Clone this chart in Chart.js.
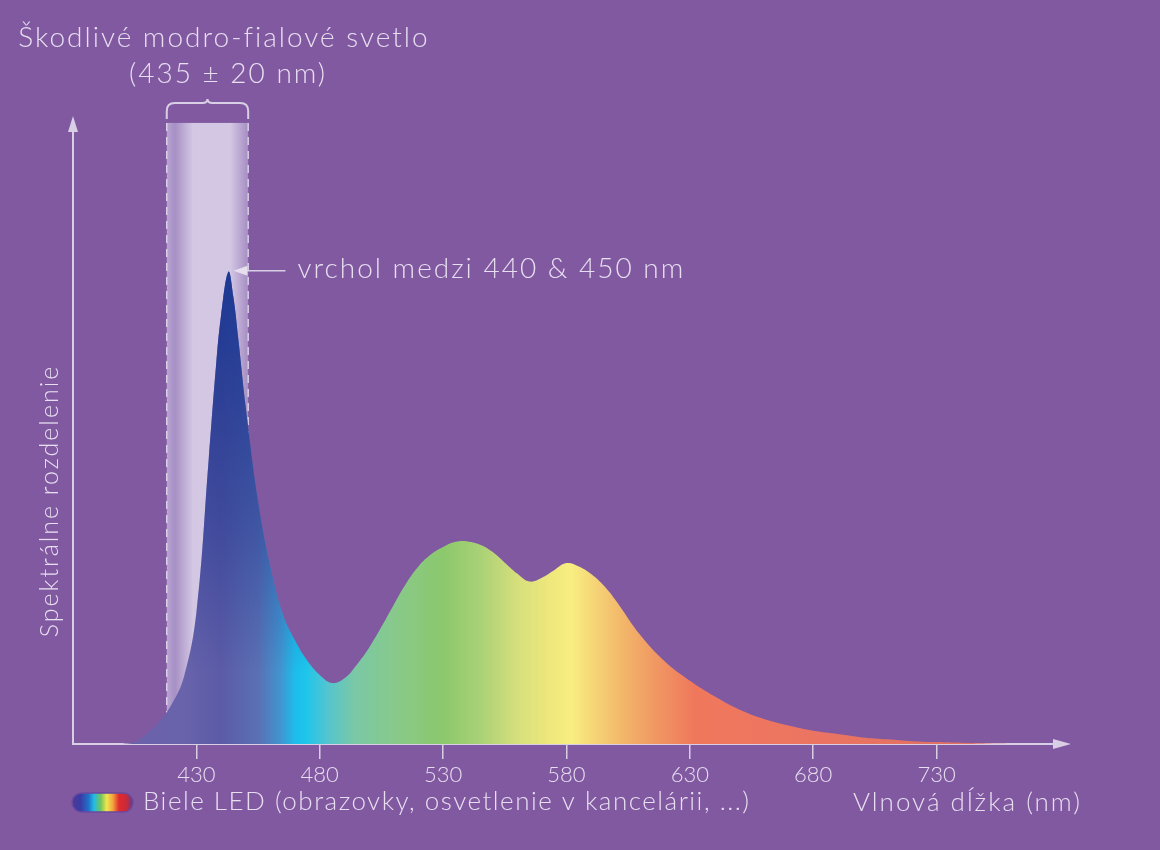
<!DOCTYPE html>
<html lang="sk">
<head>
<meta charset="utf-8">
<title>Spektrálne rozdelenie bielej LED</title>
<script src="https://cdn.jsdelivr.net/npm/chart.js@4.4.1/dist/chart.umd.min.js"></script>
<style>
  html, body { margin: 0; padding: 0; background: #8159a1; }
  #wrap { width: 1160px; height: 850px; position: relative; }
</style>
</head>
<body>
<div id="wrap"><canvas id="spectrum" width="1160" height="850"></canvas></div>
<script>
// wavelength (nm) and relative spectral power
const wavelengths = [400, 405, 410, 415, 420, 425, 430, 435, 438, 440, 443, 445, 447, 450,
    455, 460, 465, 470, 475, 480, 485, 490, 495, 500,
    505, 510, 515, 520, 525, 530, 535, 540, 545, 550, 555, 560, 565, 570, 575, 580, 585, 590, 595, 600,
    610, 620, 630, 640, 650, 660, 670, 680, 690, 700, 710, 720, 730, 740, 750, 760];
const intensity = [0, 0.4, 2.3, 4.8, 8.4, 14.3, 27.8, 60.3, 80.3, 90.7, 100, 94.7, 85.8, 71.4,
    51.4, 37.5, 27.6, 21.9, 17.6, 14.6, 12.9, 13.9, 16.8, 20.4,
    24.8, 29.5, 34.0, 37.6, 40.1, 41.7, 42.8, 42.9, 42.2, 40.7, 38.4, 36.1, 34.4, 35.2, 36.8, 38.3, 37.6, 36.0, 33.6, 30.4,
    23.0, 17.4, 13.4, 10.1, 7.3, 5.3, 3.9, 2.8, 2.1, 1.4, 1.0, 0.6, 0.4, 0.25, 0.1, 0];

const tickValues = [430, 480, 530, 580, 630, 680, 730];
const blueBand = [418, 451];          // dashed band as drawn
const xRange = [380, 778];
const yRange = [0, 130];

const titleLines = ['Škodlivé modro-fialové svetlo', '(435 ± 20 nm)'];
const peakNote = 'vrchol medzi 440 & 450 nm';
const yTitle = 'Spektrálne rozdelenie';
const xTitle = 'Vlnová dĺžka (nm)';
const seriesName = 'Biele LED (obrazovky, osvetlenie v kancelárii, ...)';

// colours
const TEXT = '#e7def0';
const LINE = '#d8cfe6';
const FONT = 'Lato, "Open Sans", sans-serif';
const BAND_TOP = 131.5;

const spectrumStops = [400, 425, 440, 455, 464, 470, 474, 483, 494, 510, 530, 545, 560, 574, 582, 590, 603, 618, 632, 660, 740];
const spectrumColors = ['#6c62aa', '#6863ab', '#5c5ba7', '#5a70b4', '#4294d0', '#1ebcea', '#1cc5ec', '#52c5d0',
    '#7ac8a6', '#88c98c', '#8cc86c', '#a9d176', '#d6df7c', '#f0e87c', '#f8ee82', '#f6d878', '#f2b66a',
    '#f09462', '#ef785c', '#ee7660', '#e07064'];

const points = wavelengths.map((w, i) => ({ x: w, y: intensity[i] }));
const peakIndex = intensity.indexOf(Math.max(...intensity));
const bluePart = points.filter(p => p.x <= 485);

function spectrumFill(context) {
    const { chart } = context;
    const { ctx, chartArea, scales } = chart;
    if (!chartArea) {
        return null;
    }
    const first = spectrumStops[0];
    const last = spectrumStops[spectrumStops.length - 1];
    const g = ctx.createLinearGradient(scales.x.getPixelForValue(first), 0, scales.x.getPixelForValue(last), 0);
    spectrumStops.forEach((nm, i) => {
        g.addColorStop((nm - first) / (last - first), spectrumColors[i]);
    });
    return g;
}

function peakShade(context) {
    const { chart } = context;
    const { ctx, chartArea, scales } = chart;
    if (!chartArea) {
        return null;
    }
    const g = ctx.createLinearGradient(0, scales.y.getPixelForValue(15), 0, scales.y.getPixelForValue(100));
    g.addColorStop(0, 'rgba(25, 50, 140, 0)');
    g.addColorStop(0.35, 'rgba(25, 50, 140, 0.4)');
    g.addColorStop(0.7, 'rgba(25, 52, 142, 0.7)');
    g.addColorStop(1, 'rgba(22, 52, 145, 0.9)');
    return g;
}

function text(ctx, str, x, y, size, align, spacing) {
    ctx.font = `300 ${size}px ${FONT}`;
    ctx.fillStyle = TEXT;
    ctx.textAlign = align || 'left';
    ctx.textBaseline = 'alphabetic';
    ctx.letterSpacing = (spacing || 0) + 'px';
    ctx.fillText(str, x, y);
    ctx.letterSpacing = '0px';
}

const decorPlugin = {
    id: 'decor',
    beforeDatasetsDraw(chart) {
        const { ctx, scales: { x, y } } = chart;
        const left = x.getPixelForValue(blueBand[0]);
        const right = x.getPixelForValue(blueBand[1]);
        const top = y.getPixelForValue(BAND_TOP);
        const bottom = y.getPixelForValue(0);

        ctx.save();
        const g = ctx.createLinearGradient(left, 0, right, 0);
        g.addColorStop(0, '#b8a4d2');
        g.addColorStop(0.1, '#a790c5');
        g.addColorStop(0.32, '#d3c7e3');
        g.addColorStop(0.78, '#d3c7e3');
        g.addColorStop(1, '#a58dc3');
        ctx.fillStyle = g;
        ctx.fillRect(left, top, right - left, bottom - top);

        ctx.setLineDash([8, 6]);
        ctx.strokeStyle = LINE;
        ctx.lineWidth = 1.5;
        [left, right].forEach((px) => {
            ctx.beginPath();
            ctx.moveTo(px, top);
            ctx.lineTo(px, bottom);
            ctx.stroke();
        });
        ctx.restore();
    },
    afterDraw(chart) {
        const { ctx, chartArea, scales: { x, y } } = chart;
        ctx.save();

        // axis arrow heads
        ctx.fillStyle = LINE;
        ctx.beginPath();
        ctx.moveTo(chartArea.left, chartArea.top - 14);
        ctx.lineTo(chartArea.left - 5, chartArea.top + 2);
        ctx.lineTo(chartArea.left + 5, chartArea.top + 2);
        ctx.closePath();
        ctx.fill();
        ctx.beginPath();
        ctx.moveTo(chartArea.right + 16, chartArea.bottom);
        ctx.lineTo(chartArea.right - 2, chartArea.bottom - 5);
        ctx.lineTo(chartArea.right - 2, chartArea.bottom + 5);
        ctx.closePath();
        ctx.fill();

        // brace over the band
        const left = x.getPixelForValue(blueBand[0]);
        const right = x.getPixelForValue(blueBand[1]);
        const mid = (left + right) / 2;
        const top = y.getPixelForValue(BAND_TOP);
        ctx.strokeStyle = LINE;
        ctx.lineWidth = 2;
        ctx.beginPath();
        ctx.moveTo(left, top - 4);
        ctx.lineTo(left, top - 12);
        ctx.quadraticCurveTo(left, top - 20, left + 8, top - 20);
        ctx.lineTo(mid - 5, top - 20);
        ctx.quadraticCurveTo(mid, top - 20, mid, top - 24);
        ctx.quadraticCurveTo(mid, top - 20, mid + 5, top - 20);
        ctx.lineTo(right - 8, top - 20);
        ctx.quadraticCurveTo(right, top - 20, right, top - 12);
        ctx.lineTo(right, top - 4);
        ctx.stroke();

        // titles
        text(ctx, titleLines[0], 224, 47, 28, 'center', 2);
        text(ctx, titleLines[1], 228, 83, 28, 'center', 2);

        // peak annotation
        const tipX = x.getPixelForValue(wavelengths[peakIndex]) + 5;
        const tipY = y.getPixelForValue(intensity[peakIndex]) - 1;
        ctx.beginPath();
        ctx.moveTo(tipX + 12, tipY);
        ctx.lineTo(tipX + 52, tipY);
        ctx.lineWidth = 1.5;
        ctx.stroke();
        ctx.beginPath();
        ctx.moveTo(tipX, tipY);
        ctx.lineTo(tipX + 14, tipY - 5);
        ctx.lineTo(tipX + 14, tipY + 5);
        ctx.closePath();
        ctx.fill();
        text(ctx, peakNote, tipX + 64, tipY + 7, 28, 'left', 2);

        // y title
        ctx.save();
        ctx.translate(58, 501);
        ctx.rotate(-Math.PI / 2);
        text(ctx, yTitle, 0, 0, 25, 'center', 2);
        ctx.restore();

        // legend pill
        const pl = 72, pt = 793, pw = 61, ph = 19;
        const pg = ctx.createLinearGradient(pl, 0, pl + pw, 0);
        pg.addColorStop(0, '#4d3a96');
        pg.addColorStop(0.14, '#3a3ca6');
        pg.addColorStop(0.27, '#2070c8');
        pg.addColorStop(0.36, '#22bce6');
        pg.addColorStop(0.47, '#72c45a');
        pg.addColorStop(0.57, '#f0e650');
        pg.addColorStop(0.67, '#f2a23c');
        pg.addColorStop(0.77, '#e02a2e');
        pg.addColorStop(0.9, '#c82a3c');
        pg.addColorStop(1, '#5d3a92');
        ctx.fillStyle = pg;
        ctx.beginPath();
        ctx.roundRect(pl, pt, pw, ph, ph / 2);
        ctx.fill();
        ctx.strokeStyle = '#6b4a9e';
        ctx.lineWidth = 1.5;
        ctx.stroke();

        text(ctx, seriesName, 143, 810, 26, 'left', 1.5);
        text(ctx, xTitle, 1082, 811, 26, 'right', 2);

        ctx.restore();
    }
};

Chart.defaults.font.family = FONT;
Chart.defaults.font.weight = 300;
Chart.defaults.color = TEXT;

new Chart(document.getElementById('spectrum'), {
    type: 'line',
    data: {
        datasets: [{
            label: seriesName,
            data: points,
            backgroundColor: spectrumFill,
            borderWidth: 0,
            pointRadius: 0,
            fill: 'origin',
            tension: 0.4,
            order: 2
        }, {
            label: 'peak shade',
            data: bluePart,
            backgroundColor: peakShade,
            borderWidth: 0,
            pointRadius: 0,
            fill: 'origin',
            tension: 0.4,
            order: 1
        }]
    },
    options: {
        responsive: false,
        animation: false,
        layout: { padding: { left: 73, right: 105, top: 130, bottom: 58.6 } },
        plugins: { legend: { display: false }, tooltip: { enabled: false } },
        scales: {
            x: {
                type: 'linear',
                min: xRange[0],
                max: xRange[1],
                z: 1,
                afterBuildTicks: (scale) => {
                    scale.ticks = tickValues.map(v => ({ value: v }));
                },
                ticks: {
                    autoSkip: false,
                    maxRotation: 0,
                    padding: 3,
                    color: TEXT,
                    font: { size: 22, weight: 300 }
                },
                grid: {
                    display: true,
                    drawOnChartArea: false,
                    drawTicks: true,
                    tickLength: 15,
                    color: LINE,
                    lineWidth: 1.5
                },
                border: { display: true, color: LINE, width: 2 }
            },
            y: {
                min: yRange[0],
                max: yRange[1],
                z: 1,
                ticks: { display: false },
                grid: { display: false, drawTicks: false },
                border: { display: true, color: LINE, width: 2 }
            }
        }
    },
    plugins: [decorPlugin]
});
</script>
</body>
</html>
